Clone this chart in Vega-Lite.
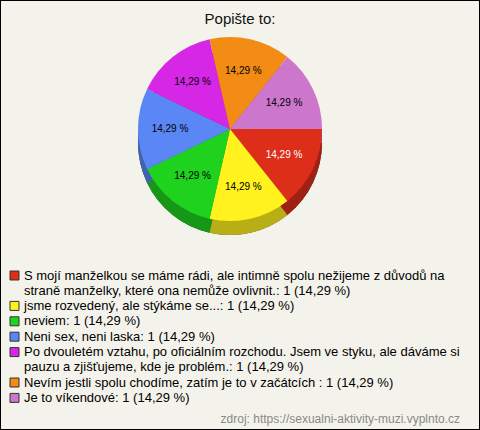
{
  "$schema": "https://vega.github.io/schema/vega-lite/v6.json",
  "width": 480,
  "height": 430,
  "autosize": {"type": "fit", "contains": "padding"},
  "padding": 0,
  "background": "#f4f3eb",
  "view": {"stroke": "#000", "strokeWidth": 2, "fill": "#f4f3eb"},
  "title": {"text": "Popište to:", "offset": -27, "anchor": "middle", "font": "Liberation Sans", "fontSize": 15, "fontWeight": "normal", "color": "#111"},
  "config": {
    "view": {"stroke": "#000", "strokeWidth": 2},
    "font": "Liberation Sans",
    "style": {"guide-label": {"dy": 4, "lineHeight": 15}}
  },
  "data": {
    "values": [
      {"ord": 1, "answer": "S mojí manželkou se máme rádi, ale intimně spolu nežijeme z důvodů na straně manželky, které ona nemůže ovlivnit.", "count": 1, "pct": "14,29 %"},
      {"ord": 2, "answer": "jsme rozvedený, ale stýkáme se...", "count": 1, "pct": "14,29 %"},
      {"ord": 3, "answer": "neviem", "count": 1, "pct": "14,29 %"},
      {"ord": 4, "answer": "Neni sex, neni laska", "count": 1, "pct": "14,29 %"},
      {"ord": 5, "answer": "Po dvouletém vztahu, po oficiálním rozchodu. Jsem ve styku, ale dáváme si pauzu a zjišťujeme, kde je problém.", "count": 1, "pct": "14,29 %"},
      {"ord": 6, "answer": "Nevím jestli spolu chodíme, zatím je to v začátcích ", "count": 1, "pct": "14,29 %"},
      {"ord": 7, "answer": "Je to víkendové", "count": 1, "pct": "14,29 %"}
    ]
  },
  "encoding": {
    "theta": {"field": "count", "type": "quantitative", "stack": true, "scale": {"range": [1.5708, 7.854]}},
    "order": {"field": "ord", "type": "quantitative"}
  },
  "layer": [
    {
      "mark": {"type": "arc", "radius": 92, "xOffset": -10, "yOffset": -72, "fill": "#000"},
      "encoding": {}
    },
    {
      "mark": {"type": "arc", "radius": 92, "xOffset": -10, "yOffset": -72, "fillOpacity": 0.72},
      "encoding": {
        "color": {
          "field": "answer", "type": "nominal", "sort": null,
          "scale": {"range": ["#dd2e1a", "#fff21e", "#1ed21e", "#5a87f5", "#d627e6", "#f28c14", "#cc77cc"]},
          "legend": {
            "orient": "none", "legendX": 8, "legendY": 269, "padding": 0,
            "title": "zdroj: https://sexualni-aktivity-muzi.vyplnto.cz",
            "titleOrient": "bottom", "titleAnchor": "end", "titleFontSize": 12, "titleFontWeight": "normal",
            "titleColor": "#888", "titlePadding": 9, "titleLimit": 500, "titleFont": "Liberation Sans",
            "symbolType": "square", "symbolSize": 81, "symbolStrokeColor": "#333", "symbolStrokeWidth": 1,
            "symbolOpacity": 1,
            "labelFont": "Liberation Sans", "labelFontSize": 13, "labelColor": "#000", "labelLimit": 500,
            "labelOffset": 3, "rowPadding": 1.4, "labelBaseline": "alphabetic",
            "labelExpr": "split(replace(replace(datum.label + ': 1 (14,29 %)', ' na straně', ' na|straně'), ' si pauzu', ' si|pauzu'), '|')"
          }
        }
      }
    },
    {
      "mark": {"type": "arc", "radius": 92, "xOffset": -10, "yOffset": -86},
      "encoding": {
        "color": {"field": "answer", "type": "nominal", "sort": null}
      }
    },
    {
      "mark": {"type": "text", "radius": 60, "xOffset": -10, "yOffset": -86, "fontSize": 10, "font": "Liberation Sans"},
      "encoding": {
        "text": {"field": "pct", "type": "nominal"},
        "color": {"condition": {"test": "datum.ord == 1", "value": "#ffffff"}, "value": "#000000"}
      }
    }
  ]
}
